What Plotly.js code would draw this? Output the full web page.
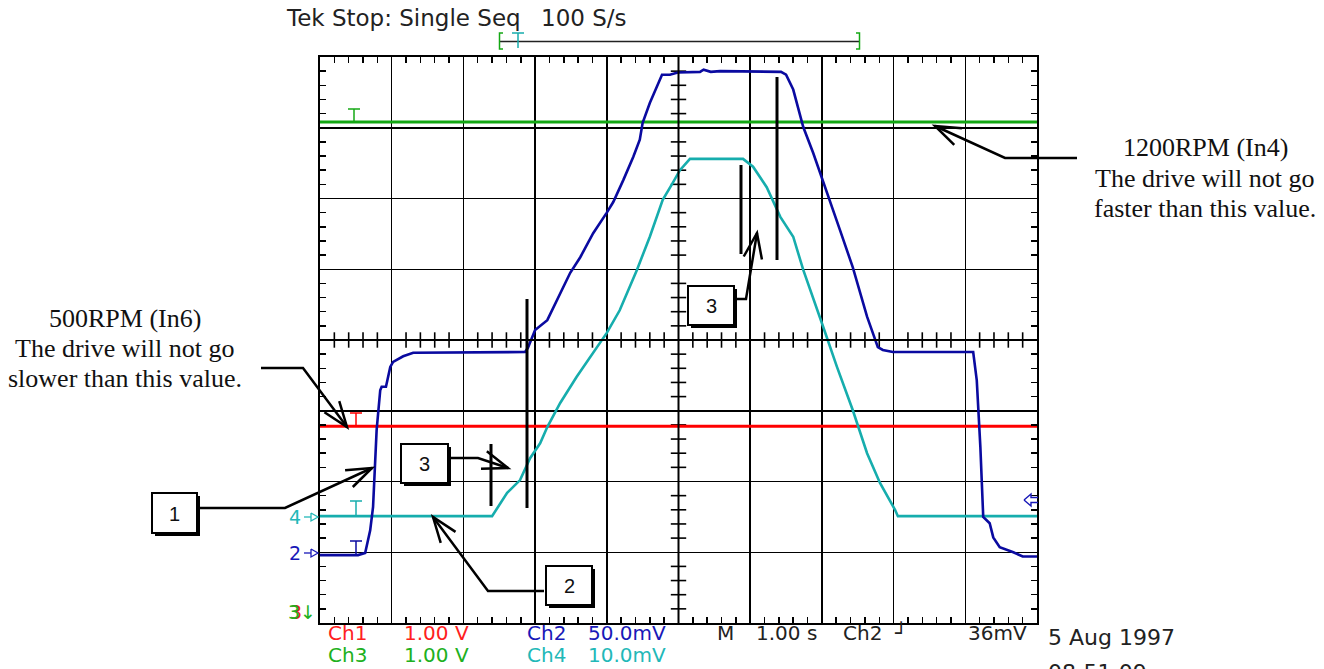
<!DOCTYPE html>
<html><head><meta charset="utf-8">
<script src="https://cdn.plot.ly/plotly-3.0.1.min.js"></script>
<style>html,body{margin:0;padding:0;background:#fff}</style>
</head><body><div id="chart" style="width:1324px;height:669px"></div>
<script>
// ---- data (time in s, 1 s/div; amplitude in screen divisions) ----
const ch2Time = [0,0.53,0.63,0.70,0.74,0.79,0.84,0.86,0.92,0.98,1.02,1.16,1.30,2.86,2.90,3.00,3.17,3.35,3.49,3.63,3.81,4.00,4.09,4.23,4.37,4.46,4.50,4.60,4.70,4.77,4.88,4.99,5.30,5.35,5.45,5.58,6.43,6.50,6.60,6.74,6.88,7.02,7.25,7.43,7.63,7.78,7.85,7.99,9.11,9.16,9.21,9.25,9.34,9.39,9.48,9.67,9.80,10];
const ch2Div = [-3.04,-3.04,-3.01,-2.69,-2.36,-1.27,-0.71,-0.66,-0.66,-0.38,-0.31,-0.23,-0.18,-0.17,-0.11,0.14,0.28,0.66,0.95,1.17,1.51,1.80,1.95,2.26,2.59,2.83,3.07,3.35,3.58,3.75,3.75,3.78,3.79,3.82,3.79,3.80,3.79,3.75,3.54,3.01,2.64,2.22,1.56,1.03,0.33,-0.10,-0.14,-0.17,-0.17,-0.57,-1.51,-2.50,-2.59,-2.79,-2.93,-3.00,-3.06,-3.06];
const ch4Time = [0,2.40,2.61,2.79,2.93,3.07,3.17,3.35,3.58,3.81,4.00,4.18,4.42,4.60,4.78,4.92,5.02,5.16,5.90,6.04,6.23,6.42,6.60,6.74,6.88,7.02,7.21,7.43,7.63,7.81,8.02,8.06,10];
const ch4Div = [-2.49,-2.49,-2.16,-1.98,-1.67,-1.46,-1.23,-0.89,-0.52,-0.18,0.10,0.42,0.99,1.46,1.98,2.22,2.40,2.56,2.56,2.45,2.16,1.74,1.46,0.99,0.57,0.18,-0.38,-0.99,-1.60,-2.02,-2.40,-2.49,-2.49];
const ch1Time = [0,10];
const ch1Div = [-1.22,-1.22];
const ch3Time = [0,10];
const ch3Div = [3.08,3.08];

const chNames = ['Ch1','Ch2','Ch3','Ch4'];
const chScales = ['1.00 V','50.0mV','1.00 V','10.0mV'];
const titleParts = ['Tek Stop: Single Seq','100 S/s'];
const timebase = ['M','1.00 s','Ch2','\u2518','36mV'];
const dateText = ['5 Aug 1997','08:51:09'];
const lowNote = ['500RPM (In6)','The drive will not go','slower than this value.'];
const highNote = ['1200RPM (In4)','The drive will not go','faster than this value.'];
const calloutNums = ['1','3','2','3'];

// ---- styling ----
const RED='#ff0000', BLUE='#0a0aa0', GREEN='#14a814', CYAN='#16adad';
const TRED='#ff2020', TBLUE='#1818b8', TGREEN='#20b020', TCYAN='#22b8b8';
const L=320, R=1037, T=57, B=623;
const X = px => (px-L)/(R-L);
const Y = py => (B-py)/(B-T);

const traces = [];
// center cross ticks
const hx=[],hy=[],vx=[],vy=[];
for(let k=1;k<50;k++){ if(k%5) {hx.push(k*0.2); hy.push(0);} }
for(let k=-19;k<20;k++){ if(k%5) {vx.push(5); vy.push(k*0.2);} }
traces.push({x:hx,y:hy,mode:'markers',marker:{symbol:'line-ns',size:11,line:{width:1.6,color:'black'}},hoverinfo:'skip',cliponaxis:false});
traces.push({x:vx,y:vy,mode:'markers',marker:{symbol:'line-ew',size:11,line:{width:1.6,color:'black'}},hoverinfo:'skip',cliponaxis:false});
traces.push(
  {x:ch3Time,y:ch3Div,mode:'lines',line:{color:GREEN,width:3},hoverinfo:'skip'},
  {x:ch1Time,y:ch1Div,mode:'lines',line:{color:RED,width:3},hoverinfo:'skip'},
  {x:ch4Time,y:ch4Div,mode:'lines',line:{color:CYAN,width:2.6},hoverinfo:'skip'},
  {x:ch2Time,y:ch2Div,mode:'lines',line:{color:BLUE,width:2.6},hoverinfo:'skip'}
);

const shapes=[];
function path(pts,color,width){
  let d='M '+pts.map(p=>X(p[0])+','+Y(p[1])).join(' L ');
  shapes.push({type:'path',xref:'paper',yref:'paper',path:d,line:{color:color||'black',width:width||2.5}});
}
function leader(pts){
  path(pts,'black',2.5);
  const n=pts.length, tip=pts[n-1], prev=pts[n-2];
  const ang=Math.atan2(prev[1]-tip[1],prev[0]-tip[0]);
  const len=27, h=20*Math.PI/180;
  const a1=[tip[0]+len*Math.cos(ang+h),tip[1]+len*Math.sin(ang+h)];
  const a2=[tip[0]+len*Math.cos(ang-h),tip[1]+len*Math.sin(ang-h)];
  path([a1,tip,a2],'black',2.5);
}
function box(x0,y0,x1,y1){
  shapes.push({type:'rect',xref:'paper',yref:'paper',x0:X(x0+3),x1:X(x1+3),y0:Y(y0+3),y1:Y(y1+3),fillcolor:'black',line:{width:0}});
  shapes.push({type:'rect',xref:'paper',yref:'paper',x0:X(x0),x1:X(x1),y0:Y(y0),y1:Y(y1),fillcolor:'white',line:{color:'black',width:2}});
}
// center lines
shapes.push({type:'line',xref:'x',yref:'paper',x0:5,x1:5,y0:0,y1:1,line:{color:'black',width:2}});
shapes.push({type:'line',xref:'paper',yref:'y',x0:0,x1:1,y0:0,y1:0,line:{color:'black',width:2}});
// vertical marker lines
path([[491,444],[491,506]],'black',3);
path([[527,299],[527,508]],'black',3);
path([[741,165],[741,254]],'black',3);
path([[777,77],[777,260]],'black',3);
// leaders
leader([[261,368],[303,368],[347,427]]);
leader([[1077,158],[1005,158],[935,126]]);
leader([[199,508],[285,508],[372,468]]);
leader([[450,458],[478,458],[508,468]]);
leader([[544,591],[488,591],[433,517]]);
leader([[736,299],[746,299],[757,233]]);
// boxes
const boxes=[[152,493,197,533],[401,444,448,483],[546,566,592,605],[688,286,734,325]];
boxes.forEach(b=>box(...b));
// trigger T markers
function tee(x,top,bottom,color){ path([[x-6,top],[x+6,top]],color,1.5); path([[x,top],[x,bottom]],color,1.5); }
tee(354,109,121,GREEN);
tee(356,413,425,RED);
tee(356,501,515,CYAN);
tee(356,541,554,BLUE);
// record bar at top
path([[500,41.5],[860,41.5]],'#222',1.5);
path([[503,33],[499.5,33],[499.5,49],[503,49]],GREEN,1.5);
path([[856,33],[859.5,33],[859.5,49],[856,49]],GREEN,1.5);
tee(518,33,48,CYAN);
// channel ground arrows (open-headed)
function gnd(y,color){ path([[304,y],[311,y]],color,1.3); path([[311,y-4],[318,y],[311,y+4],[311,y-4]],color,1.3); }
gnd(517,TCYAN);
gnd(553,TBLUE);
// right-edge arrow
path([[1024,500],[1031,494],[1031,497.5],[1038,497.5]],TBLUE,1.4);
path([[1024,500],[1031,506],[1031,502.5],[1038,502.5]],TBLUE,1.4);

const annotations=[];
function txt(text,px,base,size,color,family,anchor){
  annotations.push({xref:'paper',yref:'paper',x:X(px),y:Y(base-0.345*size),xanchor:anchor||'left',yanchor:'middle',
    showarrow:false,text:text,font:{family:family||'DejaVu Sans',size:size,color:color||'#222'},borderpad:0});
}
const SANS='DejaVu Sans', SERIF='Liberation Serif, Times New Roman, serif';
txt(titleParts[0],285,26,23,'#222',SANS);
txt(titleParts[1],540,26,23,'#222',SANS);
const rowX=[327,526], valX=[403,587];
const colors=[TRED,TBLUE,TGREEN,TCYAN];
for(let i=0;i<4;i++){
  const col=i%2, row=Math.floor(i/2), base=row?662:640;
  txt(chNames[i],rowX[col],base,20,colors[i],SANS);
  txt(chScales[i],valX[col],base,20,colors[i],SANS);
}
const tbX=[716,755,842,893,967];
timebase.forEach((t,i)=>txt(t,tbX[i],640,20,'#222',SANS));
txt(dateText[0],1047,645,22,'#222',SANS);
txt(dateText[1],1047,680,22,'#222',SANS);
// channel ground markers
txt('4',302,524,19,TCYAN,SANS,'right');
txt('2',302,560,19,TBLUE,SANS,'right');
txt('3',303,619,19,TRED,SANS,'right');
txt('3\u2193',317,619,19,TGREEN,SANS,'right');
// notes
const lowBase=[327,357,387], highBase=[156,187,217];
lowNote.forEach((t,i)=>txt(t,125,lowBase[i],26,'#111',SERIF,'center'));
highNote.forEach((t,i)=>txt(t,1205,highBase[i],26,'#111',SERIF,'center'));
boxes.forEach((b,i)=>txt(calloutNums[i],(b[0]+b[2])/2,(b[1]+b[3])/2+7.5,20,'#111','Liberation Sans, Arial, sans-serif','center'));

const axisCommon={showgrid:true,gridcolor:'black',gridwidth:1.5,zeroline:false,showline:true,mirror:'allticks',
  linecolor:'black',linewidth:2,showticklabels:false,ticks:'',dtick:1,fixedrange:true,
  minor:{dtick:0.2,ticks:'inside',ticklen:6,tickwidth:1.5,tickcolor:'black',showgrid:false}};
const layout={
  width:1324,height:669,margin:{l:L,r:1324-R,t:T,b:669-B},
  paper_bgcolor:'white',plot_bgcolor:'white',showlegend:false,
  xaxis:Object.assign({},axisCommon,{range:[0,10]}),
  yaxis:Object.assign({},axisCommon,{range:[-4,4]}),
  shapes:shapes,annotations:annotations
};
Plotly.newPlot('chart',traces,layout,{displayModeBar:false,staticPlot:true});
</script></body></html>
